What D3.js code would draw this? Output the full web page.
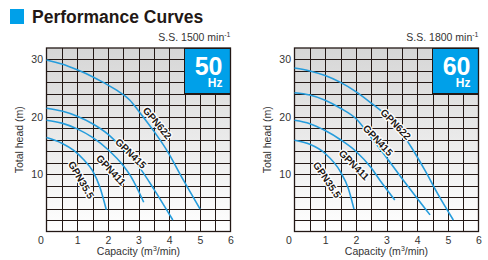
<!DOCTYPE html>
<html>
<head>
<meta charset="utf-8">
<script src="https://cdn.jsdelivr.net/npm/d3@7"></script>
<style>
  body { margin: 0; background: #fff; }
  svg { display: block; font-family: "Liberation Sans", Arial, sans-serif; }
</style>
</head>
<body>
<div id="chart"></div>
<script>
/// DATA

const capacityTicks = [0, 1, 2, 3, 4, 5, 6]
const headTicks = [10, 20, 30]
const models = ["GPN622", "GPN415", "GPN411", "GPN35.5"]

// 50 Hz, S.S. 1500 min-1  -> [capacity m3/min, total head m]
const gpn622_50 = [[0, 29.9], [0.5, 29.2], [1, 28.2], [1.5, 27.0], [1.85, 26.0], [2.3, 24.6], [2.72, 22.9], [3.02, 20.9], [3.5, 17.5], [3.92, 14.2], [4.46, 9.0], [5.01, 3.9]]
const gpn415_50 = [[0, 21.5], [0.5, 21.0], [1, 20.1], [1.5, 18.8], [2, 17.0], [2.5, 14.4], [3, 11.4], [3.5, 7.4], [4.12, 2.0]]
const gpn411_50 = [[0, 19.4], [0.5, 18.9], [1, 17.9], [1.5, 16.4], [2, 14.3], [2.5, 11.5], [2.75, 9.6], [3.17, 5.1]]
const gpn355_50 = [[0, 16.4], [0.5, 15.4], [0.9, 14.1], [1.2, 12.6], [1.5, 10.6], [1.75, 7.6], [1.95, 3.8]]

// 60 Hz, S.S. 1800 min-1
const gpn622_60 = [[0, 28.5], [0.5, 28.0], [1, 27.2], [1.5, 26.0], [2, 24.4], [2.5, 22.4], [3, 20.2], [3.5, 17.2], [3.82, 14.6], [4.25, 10.7], [4.7, 6.3], [5.18, 2.0]]
const gpn415_60 = [[0, 24.2], [0.5, 23.8], [1, 22.9], [1.5, 21.5], [2, 19.7], [2.5, 16.4], [2.79, 14.4], [3.5, 9.3], [4.42, 2.9]]
const gpn411_60 = [[0, 19.4], [0.5, 18.8], [1, 17.6], [1.5, 16.0], [2, 14.0], [2.5, 11.1], [2.79, 8.9], [3.27, 5.5]]
const gpn355_60 = [[0, 15.9], [0.5, 15.2], [1, 13.6], [1.5, 10.4], [1.75, 7.6], [1.94, 3.9]]

// where each model name sits, in chart units, and its slant
const labels50 = [[3.61, 18.9, 50], [2.75, 13.6, 44], [2.1, 10.7, 47], [1.13, 9.0, 60]]
const labels60 = [[3.30, 18.7, 46], [2.72, 15.9, 47], [1.94, 11.6, 45], [1.06, 9.0, 56]]

const panels = [
  { hz: "50", speed: "1500", left: 46.5, series: [gpn622_50, gpn415_50, gpn411_50, gpn355_50], labels: labels50 },
  { hz: "60", speed: "1800", left: 294.5, series: [gpn622_60, gpn415_60, gpn411_60, gpn355_60], labels: labels60 },
]

/// SETUP

const width = 488
const height = 260
const ink = "#231815"
const blue = "#00a0e9"
const curveBlue = "#259cdc"

const svg = d3
  .select("#chart")
  .append("svg")
  .attr("width", width)
  .attr("height", height)
  .attr("viewBox", [0, 0, width, height])

const grad = svg
  .append("defs")
  .append("linearGradient")
  .attr("id", "bg")
  .attr("x1", 0)
  .attr("y1", 0)
  .attr("x2", 0)
  .attr("y2", 1)
grad.append("stop").attr("offset", "0%").attr("stop-color", "#d6d6d6")
grad.append("stop").attr("offset", "100%").attr("stop-color", "#ffffff")

// TITLE

svg
  .append("rect")
  .attr("x", 10)
  .attr("y", 9)
  .attr("width", 14)
  .attr("height", 15)
  .attr("fill", blue)

svg
  .append("text")
  .attr("x", 32)
  .attr("y", 23)
  .style("font-size", "17.5px")
  .style("font-weight", "bold")
  .style("fill", ink)
  .text("Performance Curves")

/// PANELS

const drawPanel = function (p) {
  const xScale = d3.scaleLinear().domain([0, 6]).range([p.left, p.left + 184])
  const yScale = d3.scaleLinear().domain([0, 32]).range([231.5, 48])
  const plotW = xScale(6) - xScale(0)
  const plotH = yScale(0) - yScale(32)

  const g = svg.append("g")

  g.append("rect")
    .attr("x", xScale(0))
    .attr("y", yScale(32))
    .attr("width", plotW)
    .attr("height", plotH)
    .attr("fill", "url(#bg)")

  // grid
  g.append("g")
    .attr("transform", `translate(0,${yScale(0)})`)
    .call(
      d3.axisBottom(xScale)
        .tickValues(d3.range(0.5, 6, 0.5))
        .tickSize(-plotH)
        .tickFormat("")
    )
    .call((a) => a.select(".domain").remove())
    .selectAll("line")
    .attr("stroke", ink)
    .attr("shape-rendering", "crispEdges")

  g.append("g")
    .attr("transform", `translate(${xScale(0)},0)`)
    .call(
      d3.axisLeft(yScale)
        .tickValues(d3.range(2, 32, 2))
        .tickSize(-plotW)
        .tickFormat("")
    )
    .call((a) => a.select(".domain").remove())
    .selectAll("line")
    .attr("stroke", ink)
    .attr("shape-rendering", "crispEdges")

  // Hz badge
  g.append("rect")
    .attr("x", xScale(4.5))
    .attr("y", yScale(32))
    .attr("width", xScale(6) - xScale(4.5))
    .attr("height", yScale(24) - yScale(32))
    .attr("fill", blue)
    .attr("stroke", ink)
    .attr("stroke-width", 1)
    .attr("shape-rendering", "crispEdges")

  g.append("text")
    .attr("x", xScale(6) - 8)
    .attr("y", yScale(32) + 26.5)
    .attr("text-anchor", "end")
    .style("font-size", "25px")
    .style("font-weight", "bold")
    .style("fill", "#fff")
    .text(p.hz)

  g.append("text")
    .attr("x", xScale(6) - 8)
    .attr("y", yScale(32) + 39)
    .attr("text-anchor", "end")
    .style("font-size", "12px")
    .style("font-weight", "bold")
    .style("fill", "#fff")
    .text("Hz")

  // frame
  g.append("rect")
    .attr("x", xScale(0))
    .attr("y", yScale(32))
    .attr("width", plotW)
    .attr("height", plotH)
    .attr("fill", "none")
    .attr("stroke", ink)
    .attr("stroke-width", 1.3)

  // curves
  const lineGenerator = d3
    .line()
    .x((d) => xScale(d[0]))
    .y((d) => yScale(d[1]))
    .curve(d3.curveMonotoneX)

  g.selectAll(".pump")
    .data(p.series)
    .join("path")
    .attr("class", "pump")
    .attr("d", lineGenerator)
    .attr("fill", "none")
    .attr("stroke", curveBlue)
    .attr("stroke-width", 1.6)

  g.selectAll(".model")
    .data(p.labels)
    .join("text")
    .attr("class", "model")
    .attr("transform", (d) => `translate(${xScale(d[0])},${yScale(d[1])}) rotate(${d[2]})`)
    .attr("text-anchor", "middle")
    .attr("dy", "0.35em")
    .style("font-size", "10px")
    .style("font-weight", "bold")
    .style("fill", ink)
    .style("stroke", "#fff")
    .style("stroke-width", 2.6)
    .style("paint-order", "stroke")
    .style("stroke-linejoin", "round")
    .text((d, i) => models[i])

  // axes labels
  const xAxis = g
    .append("g")
    .attr("transform", `translate(0,${yScale(0)})`)
    .call(
      d3.axisBottom(xScale)
        .tickValues(capacityTicks)
        .tickFormat(d3.format("d"))
        .tickSize(0)
        .tickPadding(5)
    )
  xAxis.select(".domain").remove()
  xAxis
    .selectAll("text")
    .style("font-size", "10.5px")
    .style("font-family", "Liberation Sans, Arial, sans-serif")
    .style("fill", "#333")
    .attr("dx", (d) => (d === 0 ? -6 : 0))

  const yAxis = g
    .append("g")
    .attr("transform", `translate(${xScale(0)},0)`)
    .call(
      d3.axisLeft(yScale)
        .tickValues(headTicks)
        .tickFormat(d3.format("d"))
        .tickSize(0)
        .tickPadding(3.5)
    )
  yAxis.select(".domain").remove()
  yAxis
    .selectAll("text")
    .style("font-size", "10.5px")
    .style("font-family", "Liberation Sans, Arial, sans-serif")
    .style("fill", "#333")

  const cap = g
    .append("text")
    .attr("x", (xScale(0) + xScale(6)) / 2)
    .attr("y", 255)
    .attr("text-anchor", "middle")
    .style("font-size", "10.5px")
    .style("fill", "#333")
  cap.append("tspan").text("Capacity (m")
  cap.append("tspan").attr("dy", -4).style("font-size", "7px").text("3")
  cap.append("tspan").attr("dy", 4).text("/min)")

  g.append("text")
    .attr("transform", `translate(${xScale(0) - 27},${(yScale(0) + yScale(32)) / 2}) rotate(-90)`)
    .attr("text-anchor", "middle")
    .attr("dy", "0.35em")
    .style("font-size", "10.5px")
    .style("fill", "#333")
    .text("Total head (m)")

  const ss = g
    .append("text")
    .attr("x", xScale(6))
    .attr("y", 41)
    .attr("text-anchor", "end")
    .style("font-size", "10.5px")
    .style("fill", "#333")
  ss.append("tspan").text(`S.S. ${p.speed} min`)
  ss.append("tspan").attr("dy", -4).style("font-size", "7px").text("-1")
}

panels.forEach(drawPanel)
</script>
</body>
</html>
